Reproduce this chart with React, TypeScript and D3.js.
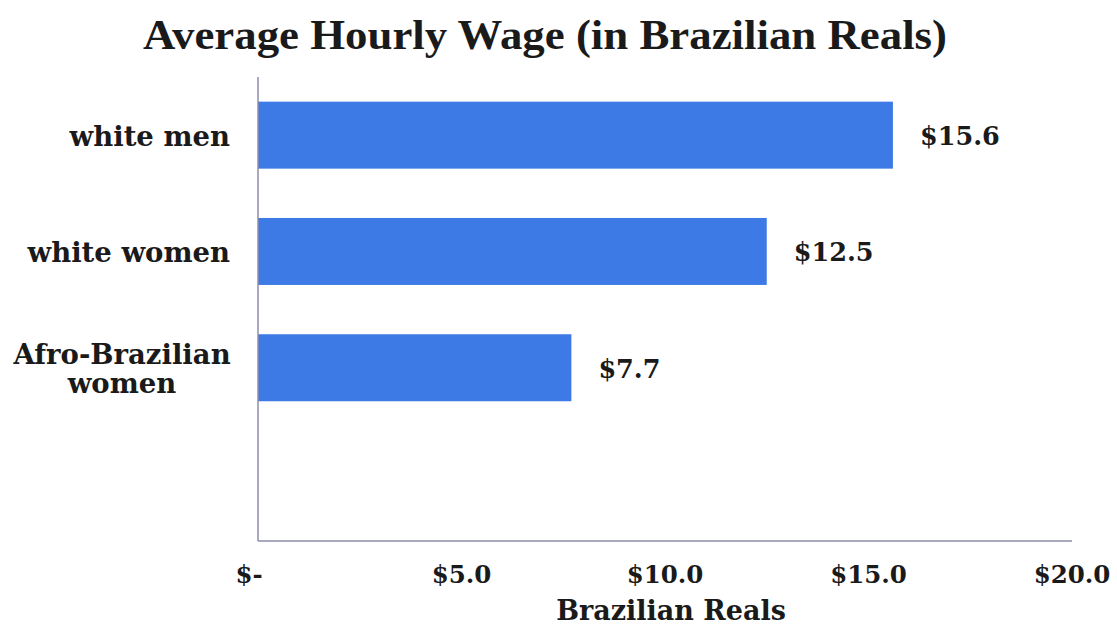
import React from "react";
import * as d3 from "d3";

const categories = ["white men", "white women", "Afro-Brazilian women"];
const wages = [15.6, 12.5, 7.7];
const xTicks = [0, 5, 10, 15, 20];
const title = "Average Hourly Wage (in Brazilian Reals)";
const xTitle = "Brazilian Reals";

const W = 1117;
const H = 627;
const left = 258;
const right = 1072;
const top = 77;
const bottom = 541;
const serif = "'DejaVu Serif', Georgia, serif";

export default function App() {
  const x = d3.scaleLinear().domain([0, 20]).range([left, right]);
  const step = 116.3;
  const y = d3
    .scaleBand<string>()
    .domain(categories)
    .range([top, top + step * categories.length])
    .paddingInner(0.424)
    .paddingOuter(0.212);
  const fmt = (v: number) => (v === 0 ? "$-" : "$" + d3.format(".1f")(v));
  const axisColor = "#8e8cae";
  const barColor = "#3d7ae6";

  const labelLines = (c: string) =>
    c === "Afro-Brazilian women" ? ["Afro-Brazilian", "women"] : [c];

  return (
    <svg width={W} height={H} style={{ position: "absolute", left: 0, top: 0, background: "#fff" }}>
      <text
        x={545}
        y={49}
        textAnchor="middle"
        fontFamily="'Liberation Serif', 'Times New Roman', serif"
        fontWeight="bold"
        fontSize={42}
        textLength={804}
        lengthAdjust="spacingAndGlyphs"
        fill="#1a1a1a"
      >
        {title}
      </text>
      {categories.map((c, i) => (
        <rect
          key={c}
          x={x(0)}
          y={y(c)!}
          width={x(wages[i]) - x(0)}
          height={y.bandwidth()}
          fill={barColor}
        />
      ))}
      <line x1={left} x2={left} y1={top} y2={bottom} stroke={axisColor} strokeWidth={1.5} />
      <line x1={left} x2={right} y1={bottom} y2={bottom} stroke={axisColor} strokeWidth={1.5} />
      {categories.map((c) => {
        const lines = labelLines(c);
        const cy = y(c)! + y.bandwidth() / 2;
        const lh = 29;
        const multi = lines.length > 1;
        return (
          <text
            key={c}
            fontFamily={serif}
            fontWeight="bold"
            fontSize={27.5}
            fill="#1a1a1a"
          >
            {lines.map((l, j) => (
              <tspan
                key={j}
                x={multi ? 122 : 230}
                textAnchor={multi ? "middle" : "end"}
                y={cy + 11 + (j - (lines.length - 1) / 2) * lh}
              >
                {l}
              </tspan>
            ))}
          </text>
        );
      })}
      {categories.map((c, i) => (
        <text
          key={c}
          x={x(wages[i]) + 27}
          y={y(c)! + y.bandwidth() / 2 + 10}
          fontFamily={serif}
          fontWeight="bold"
          fontSize={25.5}
          fill="#1a1a1a"
        >
          {fmt(wages[i])}
        </text>
      ))}
      {xTicks.map((t) => (
        <text
          key={t}
          x={x(t) + (t === 0 ? -9 : 0)}
          y={583}
          textAnchor="middle"
          fontFamily={serif}
          fontWeight="bold"
          fontSize={24.5}
          fill="#1a1a1a"
        >
          {fmt(t)}
        </text>
      ))}
      <text
        x={671}
        y={620}
        textAnchor="middle"
        fontFamily={serif}
        fontWeight="bold"
        fontSize={27}
        fill="#1a1a1a"
      >
        {xTitle}
      </text>
    </svg>
  );
}
